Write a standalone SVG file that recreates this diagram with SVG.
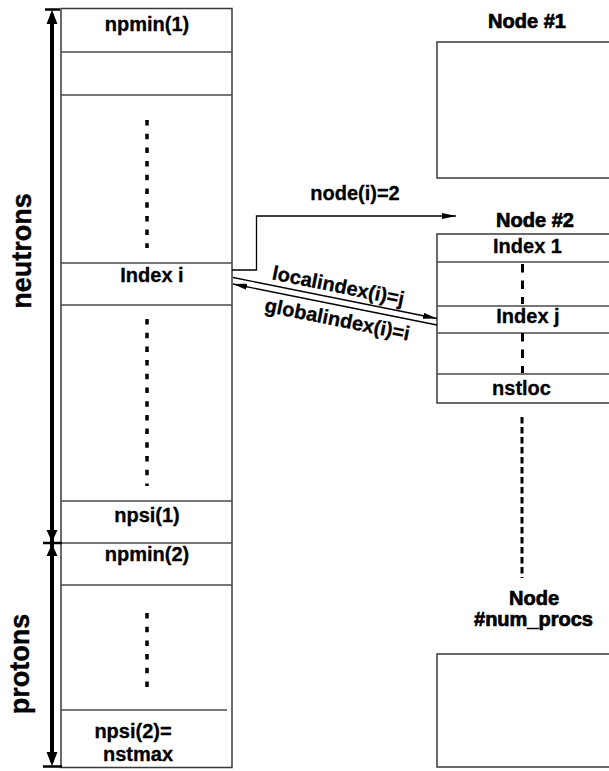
<svg xmlns="http://www.w3.org/2000/svg" width="609" height="771" viewBox="0 0 609 771">
  <style>
    .box { fill: #fff; stroke: #3a3a3a; stroke-width: 1.5; }
    .row { stroke: #4a4a4a; stroke-width: 1.4; fill: none; }
    .lbl { font-family: "Liberation Sans", Arial, sans-serif; font-size: 20px; font-weight: bold; fill: #000; stroke: #000; stroke-width: 0.3; text-anchor: middle; }
    .title { font-family: "Liberation Sans", Arial, sans-serif; font-size: 20px; font-weight: bold; fill: #000; stroke: #000; stroke-width: 0.7; text-anchor: middle; }
    .side { font-family: "Liberation Sans", Arial, sans-serif; font-size: 27px; font-weight: bold; fill: #000; stroke: #000; stroke-width: 0.4; text-anchor: middle; }
    .dots { stroke: #000; stroke-width: 3.5; fill: none; stroke-dasharray: 5.5 8.2; }
    .dash-in { stroke: #000; stroke-width: 3; fill: none; stroke-dasharray: 8.5 8; }
    .dash-out { stroke: #000; stroke-width: 3; fill: none; stroke-dasharray: 6.5 3.5; }
    .link { stroke: #000; stroke-width: 1.3; fill: none; }
    .span { stroke: #000; stroke-width: 4; fill: none; }
    .bar { stroke: #000; stroke-width: 2.5; fill: none; }
  </style>
  <defs>
    <marker id="arrow" viewBox="0 0 14 6" refX="14" refY="3" markerWidth="14" markerHeight="6" markerUnits="userSpaceOnUse" orient="auto">
      <path d="M0,0 L14,3 L0,6 z" fill="#000"/>
    </marker>
  </defs>
  <rect width="609" height="771" fill="#fff"/>

  <!-- global state array: neutrons then protons -->
  <g id="state-array">
    <rect class="box" x="61" y="8.5" width="171" height="759"/>
    <line class="row" x1="61" y1="52" x2="232" y2="52"/>
    <line class="row" x1="61" y1="95" x2="232" y2="95"/>
    <line class="row" x1="61" y1="263" x2="232" y2="263"/>
    <line class="row" x1="61" y1="305" x2="232" y2="305"/>
    <line class="row" x1="61" y1="501" x2="232" y2="501"/>
    <line class="row" x1="61" y1="543" x2="232" y2="543"/>
    <line class="row" x1="61" y1="585" x2="232" y2="585"/>
    <line class="row" x1="61" y1="710" x2="227" y2="710"/>
    <text class="lbl" x="147" y="31">npmin(1)</text>
    <line class="dots" x1="147" y1="120" x2="147" y2="248"/>
    <text class="lbl" x="152" y="282">Index i</text>
    <line class="dots" x1="147" y1="319" x2="147" y2="486"/>
    <text class="lbl" x="147" y="522">npsi(1)</text>
    <text class="lbl" x="147" y="561">npmin(2)</text>
    <line class="dots" x1="147" y1="613" x2="147" y2="692"/>
    <text class="lbl" x="133" y="738">npsi(2)=</text>
    <text class="lbl" x="138" y="761">nstmax</text>
  </g>

  <!-- extent markers for the two isospin blocks -->
  <g id="isospin-spans">
    <line class="span" x1="52" y1="14" x2="52" y2="762"/>
    <line class="bar" x1="45" y1="9.5" x2="60" y2="9.5"/>
    <line class="bar" x1="43" y1="543" x2="62" y2="543"/>
    <line class="bar" x1="43" y1="766.5" x2="62" y2="766.5"/>
    <polygon points="52,10 46.5,24 57.5,24" fill="#000"/>
    <polygon points="52,542 46.5,530 57.5,530" fill="#000"/>
    <polygon points="52,544 46.5,556 57.5,556" fill="#000"/>
    <polygon points="52,766 46.5,752 57.5,752" fill="#000"/>
    <text class="side" transform="translate(31,251) rotate(-90)">neutrons</text>
    <text class="side" transform="translate(29,664) rotate(-90)">protons</text>
  </g>

  <g id="node-1">
    <text class="title" x="527" y="28">Node #1</text>
    <rect class="box" x="437" y="42" width="200" height="136"/>
  </g>

  <g id="node-2">
    <text class="title" x="535" y="227">Node #2</text>
    <rect class="box" x="437" y="234" width="200" height="169"/>
    <line class="row" x1="437" y1="262" x2="609" y2="262"/>
    <line class="row" x1="437" y1="306" x2="609" y2="306"/>
    <line class="row" x1="437" y1="333" x2="609" y2="333"/>
    <line class="row" x1="437" y1="374" x2="609" y2="374"/>
    <text class="lbl" x="527.5" y="253">Index 1</text>
    <line class="dash-in" x1="522.5" y1="264" x2="522.5" y2="304"/>
    <text class="lbl" x="528" y="323">Index j</text>
    <line class="dash-in" x1="522.5" y1="333" x2="522.5" y2="373"/>
    <text class="lbl" x="521.5" y="395">nstloc</text>
  </g>

  <g id="node-num-procs">
    <line class="dash-out" x1="522" y1="417" x2="522" y2="578"/>
    <text class="title" x="534" y="605">Node</text>
    <text class="title" x="533.5" y="626">#num_procs</text>
    <rect class="box" x="437" y="654" width="200" height="113"/>
  </g>

  <g id="connectors">
    <polyline class="link" points="232,270 256.5,270 256.5,216 456,216" marker-end="url(#arrow)"/>
    <line class="link" x1="233" y1="277.5" x2="437" y2="318.5" marker-end="url(#arrow)"/>
    <line class="link" x1="437" y1="325" x2="233" y2="284" marker-end="url(#arrow)"/>
    <text class="lbl" x="355" y="200">node(i)=2</text>
    <text class="lbl" transform="translate(337,292.5) rotate(11.4)">localindex(i)=j</text>
    <text class="lbl" transform="translate(336,326) rotate(11.4)">globalindex(i)=i</text>
  </g>
</svg>
